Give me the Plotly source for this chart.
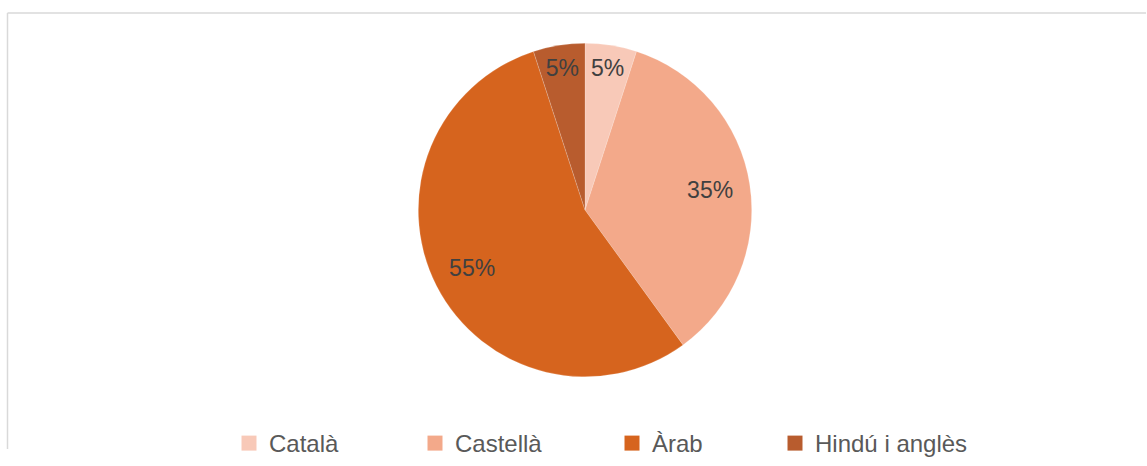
import plotly.graph_objects as go

labels = ["Català", "Castellà", "Àrab", "Hindú i anglès"]
values = [5, 35, 55, 5]
colors = ["#F8C9B8", "#F3A98A", "#D6641E", "#B85C2E"]

W, H = 1147, 466
dom = dict(x=[412 / W, 758 / W], y=[1 - 391 / H, 1 - 45 / H])

fig = go.Figure()
# coloured pie
fig.add_trace(go.Pie(
    labels=labels, values=values, sort=False, direction="clockwise", rotation=0,
    marker=dict(colors=colors, line=dict(color="rgba(255,255,255,0.35)", width=0.5)),
    textinfo="none", domain=dom, hoverinfo="label+percent", showlegend=False,
))
# transparent ring carrying the percentage labels (places them further out, as in the original)
fig.add_trace(go.Pie(
    labels=labels, values=values, sort=False, direction="clockwise", rotation=0, hole=0.52,
    marker=dict(colors=["rgba(0,0,0,0)"] * 4, line=dict(width=0)),
    texttemplate="%{percent:.0%}", textposition="inside", insidetextorientation="horizontal",
    textfont=dict(family="Liberation Sans, Arial, sans-serif", size=23, color="#404040"),
    domain=dom, showlegend=False, hoverinfo="skip",
))

# legend entries (one legend per entry so the spacing matches the original)
legend_x = [229, 415, 612, 775]
legend_names = ["legend", "legend2", "legend3", "legend4"]
for lab, col, ln in zip(labels, colors, legend_names):
    fig.add_trace(go.Scatter(
        x=[None], y=[None], mode="markers", name=lab, legend=ln,
        marker=dict(symbol="square", size=15, color=col), hoverinfo="skip",
    ))

legend_style = dict(orientation="h", xanchor="left", y=1 - 437 / H, yanchor="top",
                    font=dict(family="Liberation Sans, Arial, sans-serif", size=24, color="#595959"),
                    bgcolor="rgba(0,0,0,0)", itemwidth=30)
layout_legends = {ln: dict(legend_style, x=lx / W) for ln, lx in zip(legend_names, legend_x)}

fig.update_layout(
    width=W, height=H, margin=dict(l=0, r=0, t=0, b=0),
    paper_bgcolor="white", plot_bgcolor="rgba(0,0,0,0)",
    uniformtext=dict(minsize=23, mode="show"),
    xaxis=dict(visible=False), yaxis=dict(visible=False),
    shapes=[
        dict(type="line", xref="paper", yref="paper", x0=7.5 / W, x1=1146 / W, y0=1 - 13.5 / H, y1=1 - 13.5 / H,
             line=dict(color="#D9D9D9", width=1.5)),
        dict(type="line", xref="paper", yref="paper", x0=7.5 / W, x1=7.5 / W, y0=0, y1=1 - 13.5 / H,
             line=dict(color="#D9D9D9", width=1.5)),
    ],
    **layout_legends,
)
fig.write_html("out.html")
